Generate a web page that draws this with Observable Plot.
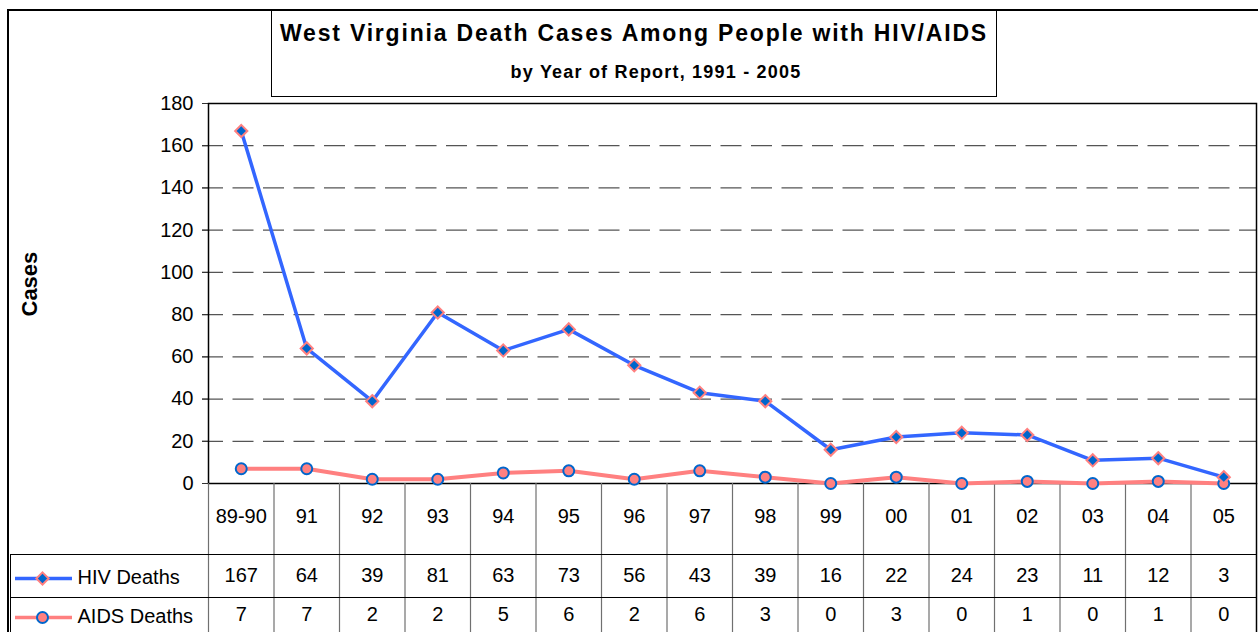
<!DOCTYPE html>
<html><head><meta charset="utf-8">
<script src="https://cdn.jsdelivr.net/npm/d3@7"></script>
<script src="https://cdn.jsdelivr.net/npm/@observablehq/plot@0.6"></script>
<style>
body{margin:0;background:#fff;font-family:"Liberation Sans",Arial,sans-serif;}
#wrap{position:relative;width:1258px;height:632px;overflow:hidden;background:#fff;}
#outer{position:absolute;left:7px;top:9px;width:1400px;height:800px;border:2px solid #000;}
#title{position:absolute;left:271px;top:10px;width:724px;height:85px;border:1.5px solid #000;background:#fff;}
#t1{position:absolute;left:0;right:0;top:9px;text-align:center;font-weight:bold;font-size:23px;letter-spacing:1.8px;white-space:nowrap;}
#t2{position:absolute;left:44px;right:0;top:51px;text-align:center;font-weight:bold;font-size:18px;letter-spacing:1.2px;white-space:nowrap;}
#tableLeft{position:absolute;left:10px;top:554px;width:0;height:100px;border-left:1.5px solid #000;}
#chart{position:absolute;left:0;top:0;}
</style></head>
<body>
<div id="wrap">
  <div id="outer"></div>
  <div id="title"><div id="t1">West Virginia Death Cases Among People with HIV/AIDS</div><div id="t2">by Year of Report, 1991 - 2005</div></div>
  <div id="tableLeft"></div>
  <div id="chart"></div>
</div>
<script>
const categories = ["89-90","91","92","93","94","95","96","97","98","99","00","01","02","03","04","05"];
const hivDeaths  = [167,64,39,81,63,73,56,43,39,16,22,24,23,11,12,3];
const aidsDeaths = [7,7,2,2,5,6,2,6,3,0,3,0,1,0,1,0];
const yTicks = [0,20,40,60,80,100,120,140,160,180];
const seriesNames = ["HIV Deaths","AIDS Deaths"];

const hiv = categories.map((c,i)=>({cat:c, value:hivDeaths[i]}));
const aids = categories.map((c,i)=>({cat:c, value:aidsDeaths[i]}));

const W = 1258, H = 632, ML = 208, MR = 2, MT = 103, MB = 149;
const step = (W - ML - MR) / categories.length;
const blue = "#3366FF", pink = "#FF8080", dark = "#0066CC";
const FS = 20;

const chart = Plot.plot({
  width: W, height: H,
  marginLeft: ML, marginRight: MR, marginTop: MT, marginBottom: MB,
  style: {background:"transparent", fontFamily:"'Liberation Sans', Arial, sans-serif", fontSize:FS+"px", color:"#000", overflow:"visible"},
  x: {type:"point", domain: categories, padding: 0.5, round: false, axis: null},
  y: {domain:[0,180], axis: null},
  marks: [
    Plot.ruleY(yTicks.filter(t=>t>0 && t<180), {stroke:"#555", strokeWidth:1.3, strokeDasharray:"21,9.5", insetLeft:-6}),
    Plot.axisY(yTicks, {tickSize:6, tickPadding:9, fontSize:FS, label:null, stroke:"#333"}),
    Plot.frame({stroke:"#000", strokeWidth:1.5}),
    // table grid
    Plot.ruleX(categories, {x:d=>d, dx:-step/2, insetTop:(H-MT-MB), insetBottom:-MB, stroke:"#707070", strokeWidth:1.2}),
    Plot.ruleX([categories[categories.length-1]], {x:d=>d, dx:step/2, insetTop:(H-MT-MB), insetBottom:-MB, stroke:"#000", strokeWidth:1.5}),
    Plot.ruleY([0], {dy:71, insetLeft:-(ML-10), stroke:"#000", strokeWidth:1.2}),
    Plot.ruleY([0], {dy:114, insetLeft:-(ML-10), stroke:"#000", strokeWidth:1.2}),
    // table text
    Plot.text(categories, {x:d=>d, frameAnchor:"bottom", dy:39, fontSize:FS, fill:"#000"}),
    Plot.text(hiv, {x:"cat", text:"value", frameAnchor:"bottom", dy:98, fontSize:FS, fill:"#000"}),
    Plot.text(aids, {x:"cat", text:"value", frameAnchor:"bottom", dy:137, fontSize:FS, fill:"#000"}),
    // legend swatches in table
    Plot.ruleY([0], {dy:95, insetLeft:-(ML-15), insetRight:(W-MR-72), stroke:blue, strokeWidth:3.5}),
    Plot.dot([0], {y:d=>d, frameAnchor:"left", dx:42-ML, dy:95, symbol:"diamond2", r:5.5, fill:dark, stroke:pink, strokeWidth:2}),
    Plot.text([seriesNames[0]], {y:()=>0, frameAnchor:"left", dx:77-ML, dy:94, textAnchor:"start", fontSize:FS, fill:"#000"}),
    Plot.ruleY([0], {dy:134, insetLeft:-(ML-15), insetRight:(W-MR-72), stroke:pink, strokeWidth:3.5}),
    Plot.dot([0], {y:d=>d, frameAnchor:"left", dx:42-ML, dy:134, symbol:"circle", r:5.5, fill:pink, stroke:dark, strokeWidth:2}),
    Plot.text([seriesNames[1]], {y:()=>0, frameAnchor:"left", dx:77-ML, dy:133, textAnchor:"start", fontSize:FS, fill:"#000"}),
    // y label
    Plot.text(["Cases"], {frameAnchor:"left", dx:29-ML, dy:23, rotate:-90, fontWeight:"bold", fontSize:22, fill:"#000"}),
    // series
    Plot.line(aids, {x:"cat", y:"value", stroke:pink, strokeWidth:4}),
    Plot.line(hiv, {x:"cat", y:"value", stroke:blue, strokeWidth:3.5}),
    Plot.dot(aids, {x:"cat", y:"value", symbol:"circle", r:5.5, fill:pink, stroke:dark, strokeWidth:2}),
    Plot.dot(hiv, {x:"cat", y:"value", symbol:"diamond2", r:5.5, fill:dark, stroke:pink, strokeWidth:2})
  ]
});
document.getElementById("chart").appendChild(chart);
</script>
</body></html>
